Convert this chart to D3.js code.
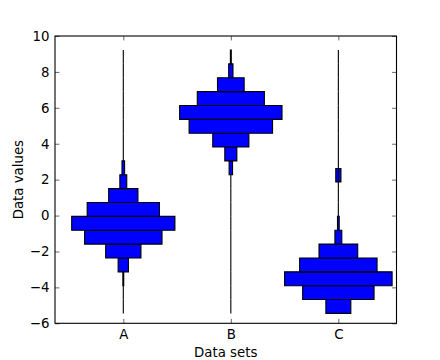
<!DOCTYPE html>
<html><head><meta charset="utf-8">
<script src="https://cdn.jsdelivr.net/npm/d3@7"></script>
<style>
body{margin:0;background:#fff}
text{font-family:"DejaVu Sans",sans-serif;font-size:13.33px;fill:#000}
</style>
</head><body>
<svg id="chart" width="440" height="360"></svg>
<script>
// ---- data ----
const labels = ["A", "B", "C"];
const binEdges = [-5.450, -4.678, -3.906, -3.134, -2.362, -1.590, -0.817, -0.045, 0.727, 1.499,
                  2.271, 3.043, 3.815, 4.587, 5.359, 6.132, 6.904, 7.676, 8.448, 9.220];
const countsA = [0, 0, 1, 12, 41, 90, 120, 84, 34, 8, 3, 0, 0, 0, 0, 0, 0, 0, 0];
const countsB = [0, 0, 0, 0, 0, 0, 0, 0, 0, 0, 4, 14, 42, 97, 119, 78, 31, 5, 1];
const countsC = [29, 83, 125, 90, 45, 8, 2, 0, 0, 0, 0, 0, 0, 0, 0, 0, 0, 0, 0];
const extraBinsC = [{lo: 1.878, hi: 2.625, count: 6}];
const yTickValues = [-6, -4, -2, 0, 2, 4, 6, 8, 10];
const xTitle = "Data sets";
const yTitle = "Data values";

// ---- layout ----
const svg = d3.select("#chart");
const plot = {left: 55, right: 396.5, top: 36, bottom: 323.3};
const binned = [countsA, countsB, countsC];
const maxCount = d3.max(binned, c => d3.max(c));
const xLocations = labels.map((d, i) => i * maxCount);

const x = d3.scaleLinear().domain([-79.4, 317.6]).range([plot.left, plot.right]);
const y = d3.scaleLinear().domain([-6, 10]).range([plot.bottom, plot.top]);

function barPath(xc, count, lo, hi) {
  const x0 = x(xc - count / 2), x1 = x(xc + count / 2);
  const y0 = y(hi), y1 = y(lo);
  return `M${x0},${y0}H${x1}V${y1}H${x0}Z`;
}

const gBars = svg.append("g");
binned.forEach((counts, i) => {
  const xc = xLocations[i];
  const bars = counts.map((c, j) => ({count: c, lo: binEdges[j], hi: binEdges[j + 1]}));
  const all = (i === 2 ? extraBinsC : []).concat(bars);
  gBars.append("g").selectAll("path").data(all).join("path")
    .attr("d", d => barPath(xc, d.count, d.lo, d.hi))
    .attr("fill", "#0000ff")
    .attr("stroke", "#000")
    .attr("stroke-width", 1.1)
    .attr("stroke-linejoin", "miter");
});

// frame
svg.append("rect")
  .attr("x", plot.left).attr("y", plot.top)
  .attr("width", plot.right - plot.left).attr("height", plot.bottom - plot.top)
  .attr("fill", "none").attr("stroke", "#000").attr("stroke-width", 1.1);

const tl = 4.4;
const fmt = d3.format("d");
// y ticks (left & right, inward)
const yAxisL = d3.axisLeft(y).tickValues(yTickValues).tickSizeInner(-tl).tickSizeOuter(0).tickPadding(tl + 1.2).tickFormat(fmt);
const gL = svg.append("g").attr("transform", `translate(${plot.left},0)`).call(yAxisL);
const yAxisR = d3.axisRight(y).tickValues(yTickValues).tickSizeInner(-tl).tickSizeOuter(0).tickFormat("");
const gR = svg.append("g").attr("transform", `translate(${plot.right},0)`).call(yAxisR);
// x ticks (bottom & top, inward)
const xAxisB = d3.axisBottom(x).tickValues(xLocations).tickSizeInner(-tl).tickSizeOuter(0).tickPadding(tl + 1.5)
  .tickFormat((d, i) => labels[i]);
const gB = svg.append("g").attr("transform", `translate(0,${plot.bottom})`).call(xAxisB);
const xAxisT = d3.axisTop(x).tickValues(xLocations).tickSizeInner(-tl).tickSizeOuter(0).tickFormat("");
const gT = svg.append("g").attr("transform", `translate(0,${plot.top})`).call(xAxisT);

[gL, gR, gB, gT].forEach(g => {
  g.select(".domain").remove();
  g.selectAll(".tick line").attr("stroke", "#000").attr("stroke-width", 0.6);
  g.selectAll("text").attr("font-family", "DejaVu Sans").attr("font-size", 13.33).attr("fill", "#000");
});
gB.selectAll(".tick text").attr("dy", "0.71em");

svg.append("text").attr("x", (plot.left + plot.right) / 2).attr("y", 356.5)
  .attr("text-anchor", "middle").text(xTitle);
svg.append("text").attr("transform", `translate(22.5,${(plot.top + plot.bottom) / 2}) rotate(-90)`)
  .attr("text-anchor", "middle").text(yTitle);
</script>
</body></html>
